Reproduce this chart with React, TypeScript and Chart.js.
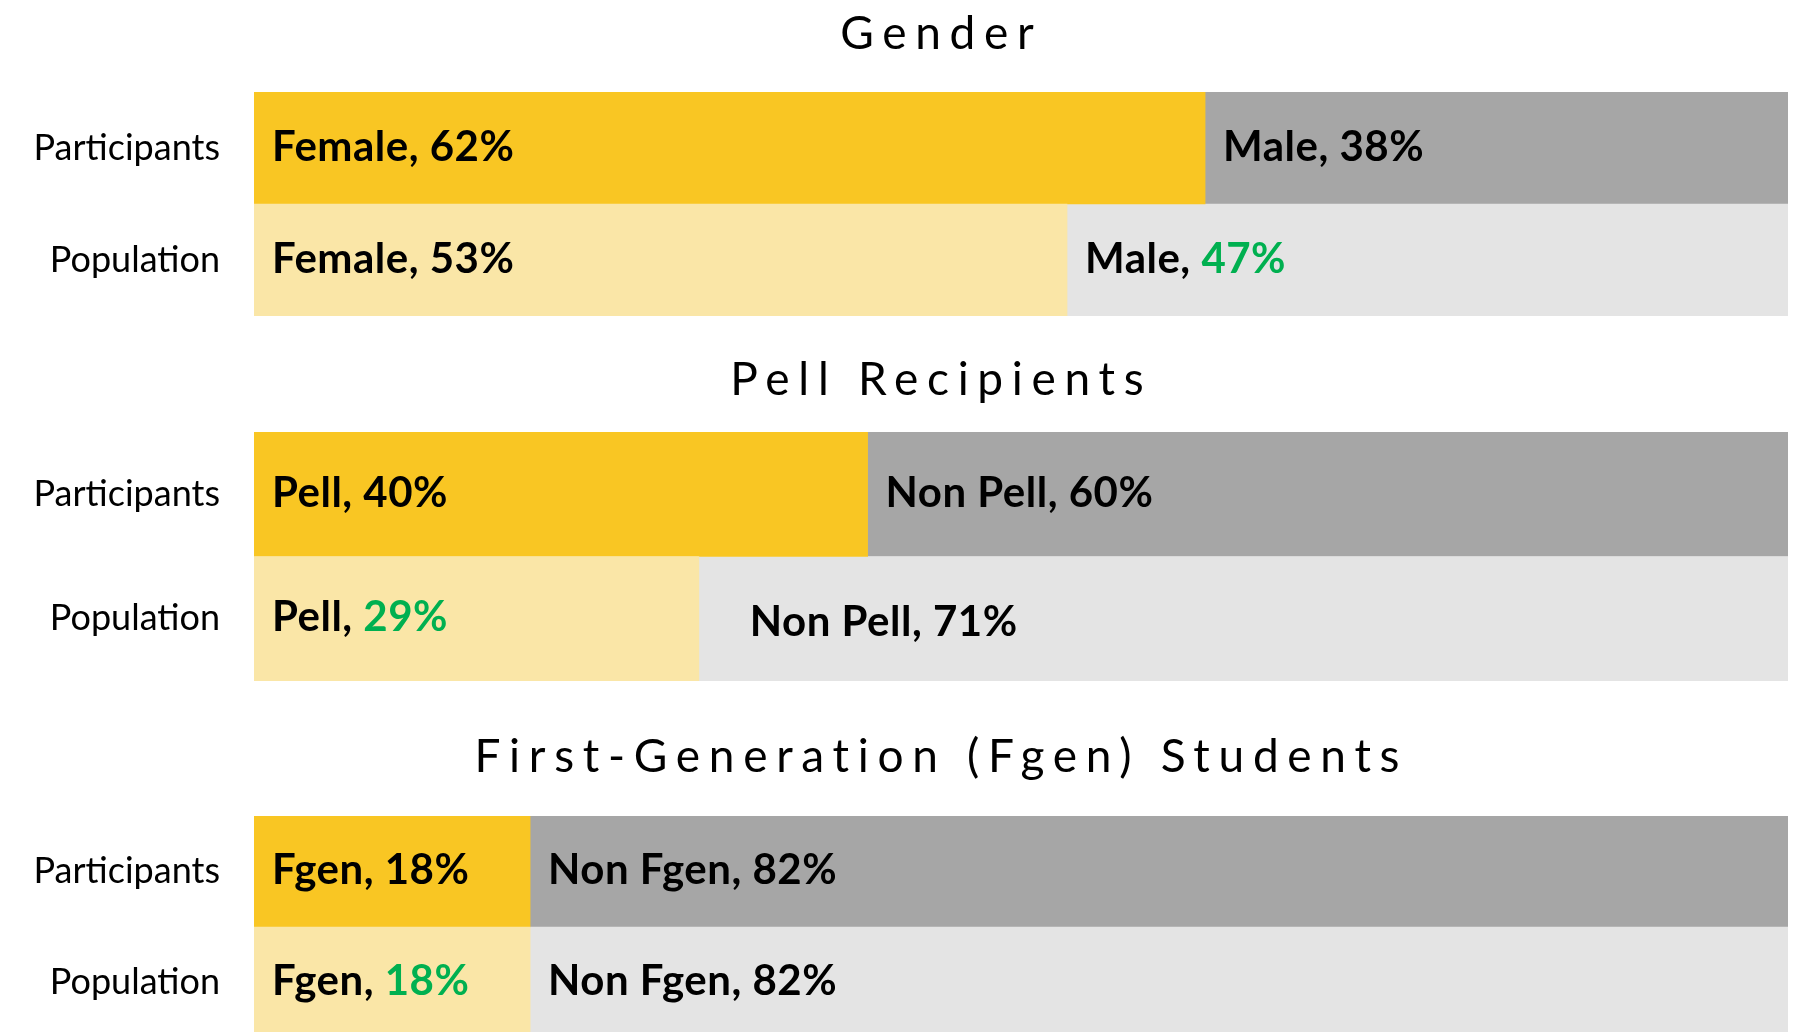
import React, { useEffect, useRef } from 'react';
import { Chart, registerables } from 'chart.js';

Chart.register(...registerables);

// ---------- DATA ----------
const rowLabels = ['Participants', 'Population'];

const genderTitle = 'Gender';
const genderSegments = ['Female', 'Male'];
const genderFirst = [62, 53];
const genderSecond = [38, 47];
const genderHighlight = [[false, false], [false, true]]; // [segment][row]

const pellTitle = 'Pell Recipients';
const pellSegments = ['Pell', 'Non Pell'];
const pellFirst = [40, 29];
const pellSecond = [60, 71];
const pellHighlight = [[false, true], [false, false]];

const fgenTitle = 'First-Generation (Fgen) Students';
const fgenSegments = ['Fgen', 'Non Fgen'];
const fgenFirst = [18, 18];
const fgenSecond = [82, 82];
const fgenHighlight = [[false, true], [false, false]];

// ---------- STYLE ----------
const FONT = 'Lato, "Open Sans", sans-serif';
const SEG_COLORS = [
  ['#F9C623', '#FAE6A7'],
  ['#A6A6A6', '#E4E4E4'],
];
const GREEN = '#00B050';
const AXIS_RIGHT = 254;
const PLOT_RIGHT_PAD = 16;
const TITLE_CENTER_X = 937;
const TITLE_SIZE = 46;
const TITLE_SPACING = 8.7;
const VALUE_SIZE = 42;
const VALUE_SPACING = 0.5;
const VALUE_PAD = 18;
const VALUE_BASELINE_SHIFT = 12.5;

type PanelCfg = {
  title: string;
  segments: string[];
  first: number[];
  second: number[];
  highlight: boolean[][];
  top: number;
  height: number;
  padTop: number;
  titleBaseline: number;
  nudge?: Record<string, { dx: number; dy: number }>;
};

const panels: PanelCfg[] = [
  {
    title: genderTitle, segments: genderSegments, first: genderFirst, second: genderSecond,
    highlight: genderHighlight, top: 0, height: 316, padTop: 92, titleBaseline: 49,
  },
  {
    title: pellTitle, segments: pellSegments, first: pellFirst, second: pellSecond,
    highlight: pellHighlight, top: 316, height: 365, padTop: 116, titleBaseline: 79,
    nudge: { '1-1': { dx: 33, dy: 5 } },
  },
  {
    title: fgenTitle, segments: fgenSegments, first: fgenFirst, second: fgenSecond,
    highlight: fgenHighlight, top: 681, height: 357, padTop: 135, titleBaseline: 91,
  },
];

function makePlugin(cfg: PanelCfg) {
  return {
    id: 'segLabels',
    afterDatasetsDraw(chart: any) {
      const ctx = chart.ctx as CanvasRenderingContext2D;
      ctx.save();
      ctx.font = `bold ${VALUE_SIZE}px ${FONT}`;
      (ctx as any).letterSpacing = `${VALUE_SPACING}px`;
      ctx.textAlign = 'left';
      ctx.textBaseline = 'alphabetic';
      chart.data.datasets.forEach((ds: any, di: number) => {
        const meta = chart.getDatasetMeta(di);
        meta.data.forEach((el: any, i: number) => {
          const p = el.getProps(['x', 'y', 'base'], true);
          const left = Math.min(p.x, p.base);
          const n = cfg.nudge && cfg.nudge[`${di}-${i}`];
          const tx = left + VALUE_PAD + (n ? n.dx : 0);
          const ty = p.y + VALUE_BASELINE_SHIFT + (n ? n.dy : 0);
          const namePart = `${cfg.segments[di]}, `;
          const valPart = `${ds.data[i]}%`;
          ctx.fillStyle = '#000000';
          ctx.fillText(namePart, tx, ty);
          const w = ctx.measureText(namePart).width;
          ctx.fillStyle = cfg.highlight[di][i] ? GREEN : '#000000';
          ctx.fillText(valPart, tx + w, ty);
        });
      });
      ctx.restore();
    },
    afterDraw(chart: any) {
      const ctx = chart.ctx as CanvasRenderingContext2D;
      ctx.save();
      ctx.font = `normal ${TITLE_SIZE}px ${FONT}`;
      (ctx as any).letterSpacing = `${TITLE_SPACING}px`;
      ctx.textAlign = 'center';
      ctx.textBaseline = 'alphabetic';
      ctx.fillStyle = '#000000';
      ctx.fillText(cfg.title, TITLE_CENTER_X + TITLE_SPACING / 2, cfg.titleBaseline);
      ctx.restore();
    },
  };
}

function Panel({ cfg }: { cfg: PanelCfg }) {
  const ref = useRef<HTMLCanvasElement | null>(null);
  useEffect(() => {
    if (!ref.current) return;
    const chart = new Chart(ref.current, {
      type: 'bar',
      data: {
        labels: rowLabels,
        datasets: [
          { label: cfg.segments[0], data: cfg.first, backgroundColor: SEG_COLORS[0], borderWidth: 0 },
          { label: cfg.segments[1], data: cfg.second, backgroundColor: SEG_COLORS[1], borderWidth: 0 },
        ],
      },
      options: {
        indexAxis: 'y',
        responsive: false,
        animation: false,
        maintainAspectRatio: false,
        layout: { padding: { top: cfg.padTop, right: PLOT_RIGHT_PAD, bottom: 0, left: 0 } },
        datasets: { bar: { categoryPercentage: 1, barPercentage: 1 } },
        plugins: { legend: { display: false }, title: { display: false }, tooltip: { enabled: false } },
        scales: {
          x: { stacked: true, min: 0, max: 100, display: false },
          y: {
            stacked: true,
            afterFit: (scale: any) => {
              scale.width = AXIS_RIGHT;
              scale.paddingTop = 0;
              scale.paddingBottom = 0;
            },
            grid: { display: false, drawTicks: false },
            border: { display: true, color: '#D9D9D9', width: 1 },
            ticks: { font: { family: FONT, size: 36 }, color: '#000000', padding: 34 },
          },
        },
      } as any,
      plugins: [makePlugin(cfg)],
    });
    return () => chart.destroy();
  }, [cfg]);
  return (
    <div style={{ position: 'absolute', left: 0, top: cfg.top, width: 1804, height: cfg.height }}>
      <canvas ref={ref} width={1804} height={cfg.height} style={{ display: 'block' }} />
    </div>
  );
}

export default function App() {
  return (
    <div style={{ position: 'fixed', left: 0, top: 0, width: 1804, height: 1032, overflow: 'hidden', background: '#ffffff' }}>
      {panels.map((p, i) => <Panel key={i} cfg={p} />)}
    </div>
  );
}
